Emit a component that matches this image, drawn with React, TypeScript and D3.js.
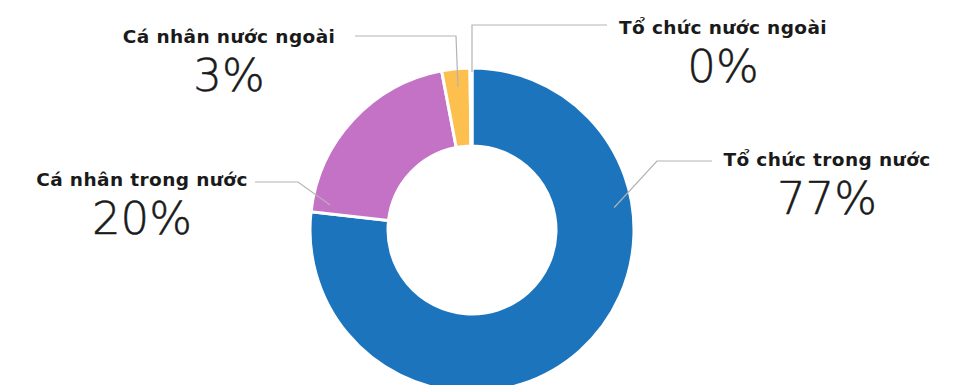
import React from "react";
import * as d3 from "d3";

const categories = ["Tổ chức trong nước", "Cá nhân trong nước", "Cá nhân nước ngoài", "Tổ chức nước ngoài"];
const values = [76.8, 20.2, 2.8, 0.2];
const colors = ["#1c75bc", "#c472c5", "#fdbf4e", "#8e8e8e"];
// angle (degrees, clockwise from top) where each leader line touches the ring
const leaderAngles = [81, 280, 354.4, 0];
const leaderRadii = [144, 144, 144, 158];
// label anchor positions
const labelX = [827, 142, 229, 723];
const labelY = [166, 186, 43, 34];
const elbowX = [712, 255, 355, 607];
const elbowY = [161, 182, 36, 25];
const kneeX = [657, 298, 456, 472];

export default function App() {
  const W = 967, H = 385;
  const cx = 472, cy = 230, R = 162, r = 84;
  const pie = d3.pie<number>().sort(null).value((d) => d)(values);
  const arc = d3.arc<d3.PieArcDatum<number>>().innerRadius(r).outerRadius(R);
  const total = d3.sum(values);
  const pt = (deg: number, rad: number) => {
    const a = (deg * Math.PI) / 180;
    return [cx + rad * Math.sin(a), cy - rad * Math.cos(a)];
  };
  return (
    <svg width={W} height={H} style={{ position: "absolute", left: 0, top: 0 }}>
      <rect width={W} height={H} fill="#fff" />
      <g transform={`translate(${cx},${cy})`}>
        {pie.map((p, i) => (
          <path key={i} d={arc(p) || ""} fill={colors[i]} stroke="#fff" strokeWidth={3} strokeLinejoin="round" />
        ))}
      </g>
      {categories.map((c, i) => {
        const [sx, sy] = pt(leaderAngles[i], leaderRadii[i]);
        const pts = [[elbowX[i], elbowY[i]], [kneeX[i], elbowY[i]], [sx, sy]];
        return (
          <path key={"l" + i} d={d3.line()(pts as [number, number][]) || ""} fill="none" stroke="#b3b3b3" strokeWidth={1.2} />
        );
      })}
      {categories.map((c, i) => (
        <g key={"t" + i}>
          <text x={labelX[i]} y={labelY[i]} textAnchor="middle" fontFamily="'DejaVu Sans', sans-serif" fontWeight={700} fontSize={18.5} letterSpacing={0.4} fill="#1a1a1a">
            {c}
          </text>
          <text x={labelX[i]} y={labelY[i] + 48} textAnchor="middle" fontFamily="'DejaVu Sans', sans-serif" fontWeight={200} fontSize={45} fill="#1a1a1a" stroke="#1a1a1a" strokeWidth={0.5}>
            {Math.round((values[i] / total) * 100) + "%"}
          </text>
        </g>
      ))}
    </svg>
  );
}
